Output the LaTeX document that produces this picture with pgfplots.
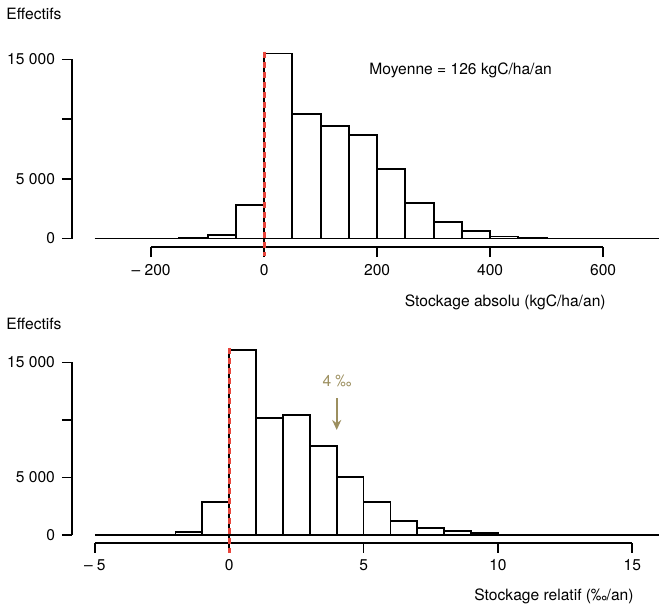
\documentclass[border=0pt]{standalone}
\usepackage{fontspec}
\setmainfont{TeX Gyre Heros}
\usepackage{pgfplots}
\pgfplotsset{compat=1.18}
\usetikzlibrary{arrows.meta}

\definecolor{redline}{HTML}{E8453C}
\definecolor{olive}{HTML}{9C8F5F}

\pgfplotsset{
  histo/.style={
    scale only axis,
    anchor=south west,
    clip=false,
    axis line style={draw=none},
    tick align=outside,
    major tick length=5pt,
    tick style={black, line width=0.9pt},
    xtick pos=bottom, ytick pos=left,
    scaled y ticks=false,
    ytick={0,5000,10000,15000},
    yticklabels={0,5 000,,15 000},
    ticklabel style={font=\fontsize{7.8}{9}\selectfont},
    /pgf/number format/assume math mode=true,
  },
}

\begin{document}
\begin{tikzpicture}
\useasboundingbox (0,0) rectangle (329.5pt,-302.5pt);

% histogramme du haut : stockage absolu
\begin{axis}[histo,
  at={(36pt,-123.5pt)}, width=293.8pt, height=99.75pt,
  xmin=-340, xmax=700, ymin=-712, ymax=16000,
  xtick={-200,0,200,400,600},
  xticklabels={– 200,0,200,400,600},
]
\addplot[ybar interval, draw=black, fill=white, line width=0.9pt]
coordinates {
(-150,60) (-100,300) (-50,2800) (0,15500) (50,10400) (100,9450)
(150,8670) (200,5820) (250,2950) (300,1400) (350,630) (400,170)
(450,50) (500,0)
};
\draw[line width=0.9pt] (axis cs:-300,0) -- (axis cs:700,0);
\draw[line width=0.9pt] (axis cs:-340,0) -- (axis cs:-340,15000);
\draw[line width=0.9pt] (axis cs:-200,-712) -- (axis cs:600,-712);
\draw[line width=0.9pt] (axis cs:0,15650) -- (axis cs:0,-1500);
\draw[redline, line width=1.5pt, dash pattern=on 3pt off 2pt]
  (axis cs:0,15650) -- (axis cs:0,-1500);
\end{axis}

% histogramme du bas : stockage relatif
\begin{axis}[histo,
  at={(36pt,-271.35pt)}, width=293.6pt, height=98.75pt,
  xmin=-5.85, xmax=16, ymin=-670, ymax=16500,
  xtick={-5,0,5,10,15},
  xticklabels={– 5,0,5,10,15},
]
\addplot[ybar interval, draw=black, fill=white, line width=0.9pt]
coordinates {
(-3,50) (-2,290) (-1,2900) (0,16100) (1,10150) (2,10400) (3,7770)
(4,5050) (5,2900) (6,1250) (7,610) (8,330) (9,150) (10,50) (11,0)
};
\draw[line width=0.9pt] (axis cs:-5,0) -- (axis cs:16,0);
\draw[line width=0.9pt] (axis cs:-5.85,0) -- (axis cs:-5.85,15000);
\draw[line width=0.9pt] (axis cs:-5,-670) -- (axis cs:15,-670);
\draw[line width=0.9pt] (axis cs:0,16260) -- (axis cs:0,-1565);
\draw[redline, line width=1.5pt, dash pattern=on 3pt off 2pt]
  (axis cs:0,16260) -- (axis cs:0,-1565);
\draw[olive, line width=0.9pt, -{Stealth[length=5pt,width=4.5pt]}]
  (axis cs:4,11900) -- (axis cs:4,9130);
\end{axis}

\begin{scope}[font=\fontsize{7.8}{9}\selectfont]
\node[anchor=base west, inner sep=0] at (3pt,-9.5pt) {Effectifs};
\node[anchor=base west, inner sep=0] at (3pt,-164.5pt) {Effectifs};
\node[anchor=base west, inner sep=0] at (184.5pt,-37pt) {Moyenne = 126 kgC/ha/an};
\node[anchor=base east, inner sep=0] at (303pt,-153pt) {Stockage absolu (kgC/ha/an)};
\node[anchor=base east, inner sep=0] at (317pt,-300pt) {Stockage relatif (‰/an)};
\node[anchor=base, inner sep=0, text=olive] at (168.5pt,-193pt) {4 ‰};
\end{scope}
\end{tikzpicture}
\end{document}
